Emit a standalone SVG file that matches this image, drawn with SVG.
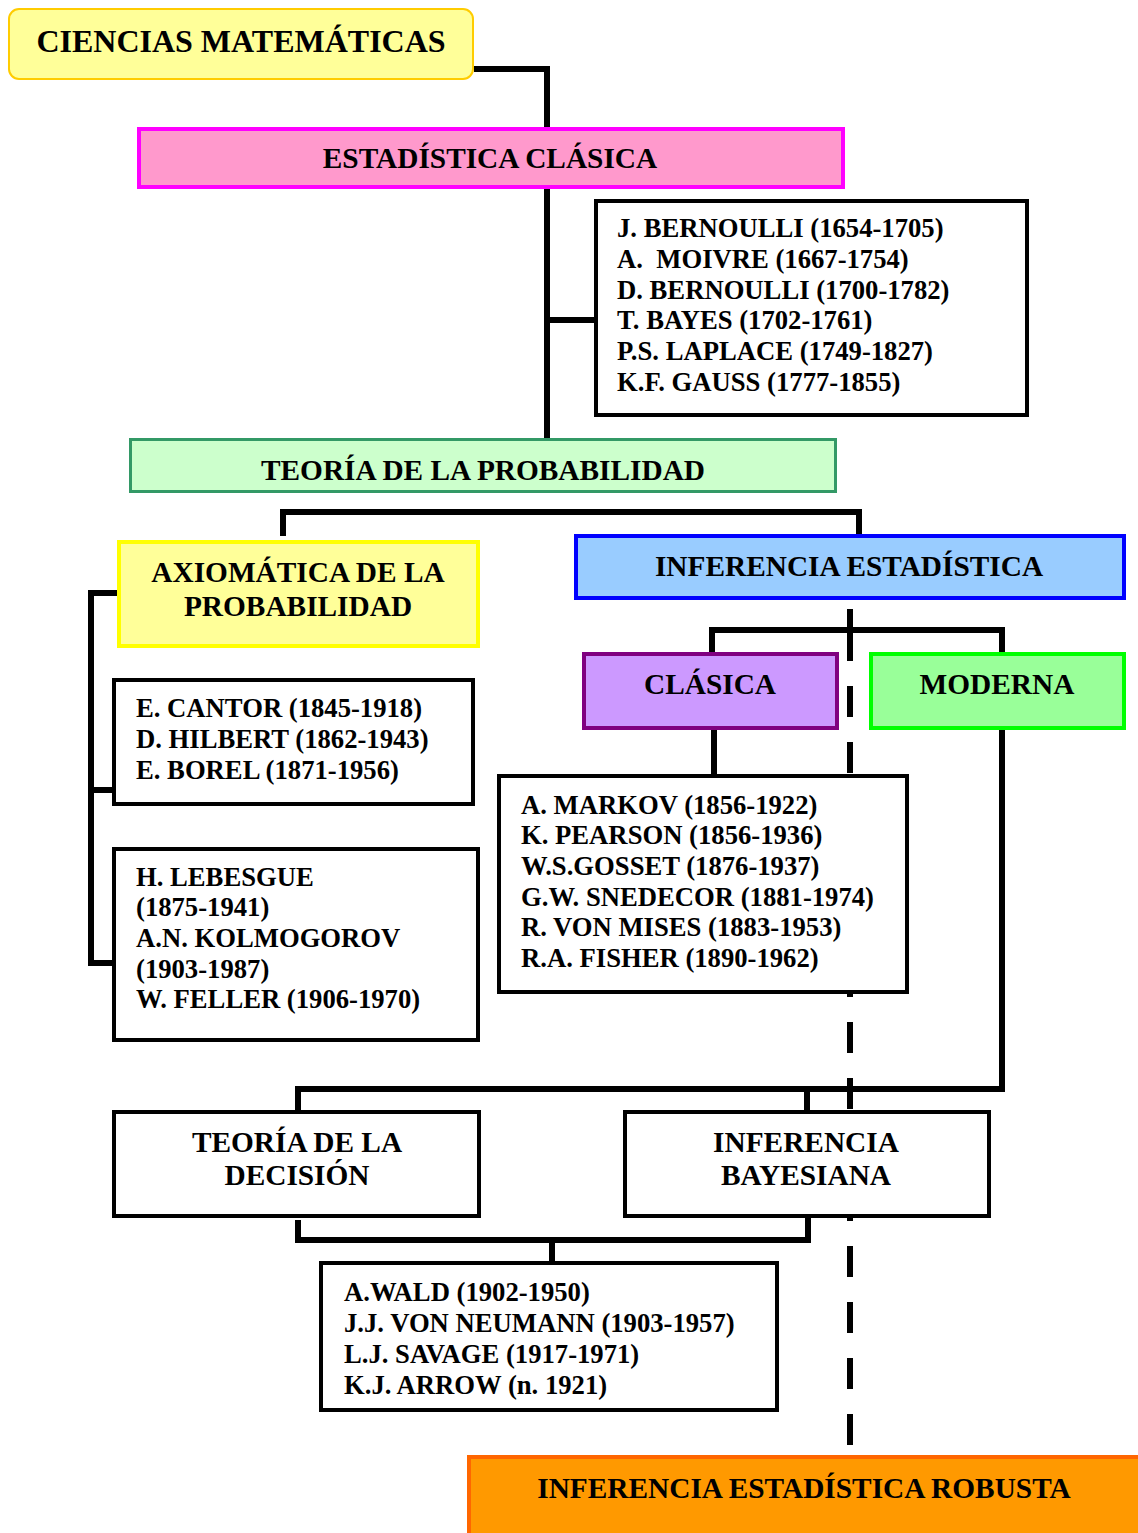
<svg xmlns="http://www.w3.org/2000/svg" width="1138" height="1533" viewBox="0 0 1138 1533">
<style>
text{font-family:"Liberation Serif","Times New Roman",serif;font-weight:bold;fill:#000}
.h{font-size:29.33px;text-anchor:middle}
.l{font-size:26.67px}
.box{fill:#fff;stroke:#000;stroke-width:4}
.c{fill:none;stroke:#000;stroke-width:6;stroke-linejoin:miter;stroke-linecap:butt}
.d{fill:none;stroke:#000;stroke-width:6;stroke-dasharray:31 25}
</style>
<g id="connectors">
<path class="c" d="M474,69 H547 V127"/>
<path class="c" d="M547,188 V439"/>
<path class="c" d="M547,320 H594"/>
<path class="c" d="M283,536 V512 H859 V535"/>
<path class="c" d="M118,593 H91 V963 H112 M91,790 H112"/>
<path class="c" d="M850,609 V630 M712,652 V630 H1002 V652"/>
<path class="c" d="M714,730 V775"/>
<path class="c" d="M1002,730 V1089 H298 V1111 M807,1089 V1111"/>
<path class="d" d="M850,630 V1445"/>
<path class="c" d="M298,1220 V1240 H808 V1217 M552,1240 V1262"/>
</g>
<g id="ciencias">
<rect x="9" y="9" width="464" height="70" rx="10" fill="#ffff99" stroke="#ffcc00" stroke-width="2"/>
<text class="h" x="241" y="52" style="font-size:32px">CIENCIAS MATEMÁTICAS</text>
</g>
<g id="estadistica-clasica">
<rect x="139" y="129" width="704" height="58" fill="#ff99cc" stroke="#ff00ff" stroke-width="4"/>
<text class="h" x="490" y="168">ESTADÍSTICA CLÁSICA</text>
</g>
<g id="clasicos">
<rect class="box" x="596" y="201" width="431" height="214"/>
<text class="l" x="617" y="237">J. BERNOULLI (1654-1705)</text>
<text class="l" x="617" y="268">A.&#160; MOIVRE (1667-1754)</text>
<text class="l" x="617" y="299">D. BERNOULLI (1700-1782)</text>
<text class="l" x="617" y="329">T. BAYES (1702-1761)</text>
<text class="l" x="617" y="360">P.S. LAPLACE (1749-1827)</text>
<text class="l" x="617" y="391">K.F. GAUSS (1777-1855)</text>
</g>
<g id="teoria-probabilidad">
<rect x="130.5" y="439.5" width="705" height="52" fill="#ccffcc" stroke="#339966" stroke-width="3"/>
<text class="h" x="483" y="480">TEORÍA DE LA PROBABILIDAD</text>
</g>
<g id="axiomatica">
<rect x="119" y="542" width="359" height="104" fill="#ffff99" stroke="#ffff00" stroke-width="4"/>
<text class="h" x="298" y="582">AXIOMÁTICA DE LA</text>
<text class="h" x="298" y="616">PROBABILIDAD</text>
</g>
<g id="inferencia">
<rect x="576" y="536" width="548" height="62" fill="#99ccff" stroke="#0000ff" stroke-width="4"/>
<text class="h" x="849" y="576">INFERENCIA ESTADÍSTICA</text>
</g>
<g id="clasica">
<rect x="584" y="654" width="253" height="74" fill="#cc99ff" stroke="#800080" stroke-width="4"/>
<text class="h" x="710" y="694">CLÁSICA</text>
</g>
<g id="moderna">
<rect x="871" y="654" width="253" height="74" fill="#99ff99" stroke="#00ff00" stroke-width="4"/>
<text class="h" x="997" y="694">MODERNA</text>
</g>
<g id="cantor">
<rect class="box" x="114" y="680" width="359" height="124"/>
<text class="l" x="136" y="717">E. CANTOR (1845-1918)</text>
<text class="l" x="136" y="748">D. HILBERT (1862-1943)</text>
<text class="l" x="136" y="779">E. BOREL (1871-1956)</text>
</g>
<g id="lebesgue">
<rect class="box" x="114" y="849" width="364" height="191"/>
<text class="l" x="136" y="886">H. LEBESGUE</text>
<text class="l" x="136" y="916">(1875-1941)</text>
<text class="l" x="136" y="947">A.N. KOLMOGOROV</text>
<text class="l" x="136" y="978">(1903-1987)</text>
<text class="l" x="136" y="1008">W. FELLER (1906-1970)</text>
</g>
<g id="markov">
<rect class="box" x="499" y="776" width="408" height="216"/>
<text class="l" x="521" y="814">A. MARKOV (1856-1922)</text>
<text class="l" x="521" y="844">K. PEARSON (1856-1936)</text>
<text class="l" x="521" y="875">W.S.GOSSET (1876-1937)</text>
<text class="l" x="521" y="906">G.W. SNEDECOR (1881-1974)</text>
<text class="l" x="521" y="936">R. VON MISES (1883-1953)</text>
<text class="l" x="521" y="967">R.A. FISHER (1890-1962)</text>
</g>
<g id="decision">
<rect class="box" x="114" y="1112" width="365" height="104"/>
<text class="h" x="297" y="1152">TEORÍA DE LA</text>
<text class="h" x="297" y="1185">DECISIÓN</text>
</g>
<g id="bayesiana">
<rect class="box" x="625" y="1112" width="364" height="104"/>
<text class="h" x="806" y="1152">INFERENCIA</text>
<text class="h" x="806" y="1185">BAYESIANA</text>
</g>
<g id="wald">
<rect class="box" x="321" y="1263" width="456" height="147"/>
<text class="l" x="344" y="1301">A.WALD (1902-1950)</text>
<text class="l" x="344" y="1332">J.J. VON NEUMANN (1903-1957)</text>
<text class="l" x="344" y="1363">L.J. SAVAGE (1917-1971)</text>
<text class="l" x="344" y="1394">K.J. ARROW (n. 1921)</text>
</g>
<g id="robusta">
<rect x="469" y="1457" width="672" height="90" fill="#ff9900" stroke="#ff6600" stroke-width="4"/>
<text class="h" x="804" y="1498">INFERENCIA ESTADÍSTICA ROBUSTA</text>
</g>
</svg>
